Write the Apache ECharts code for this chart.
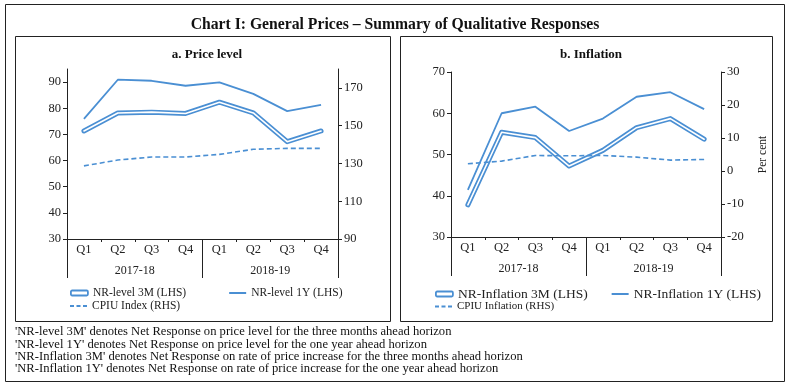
<!DOCTYPE html>
<html><head><meta charset="utf-8">
<script src="https://cdn.jsdelivr.net/npm/echarts@6/dist/echarts.min.js"></script>
<style>html,body{margin:0;padding:0;background:#fff}#c{width:790px;height:387px}</style>
</head><body><div id="c"></div>
<script>
// ---- data ----
var categories = ['Q1','Q2','Q3','Q4','Q1','Q2','Q3','Q4'];
var years = ['2017-18','2018-19'];
var levelNR3M = [71.3, 78.2, 78.5, 78.0, 82.3, 78.2, 67.2, 71.3];
var levelNR1Y = [75.9, 90.9, 90.5, 88.6, 89.9, 85.5, 78.9, 81.3];
var cpiuIndex = [128.7, 131.8, 133.4, 133.4, 134.8, 137.5, 138.0, 138.0];
var inflNR3M = [37.8, 55.4, 54.1, 47.2, 51.0, 56.5, 58.7, 53.7];
var inflNR1Y = [41.4, 60.0, 61.6, 55.7, 58.7, 64.0, 65.1, 61.0];
var cpiuInfl = [2.2, 3.0, 4.7, 4.6, 4.7, 4.2, 3.3, 3.5];
var levelLhsTicks = [30, 40, 50, 60, 70, 80, 90];
var levelRhsTicks = [90, 110, 130, 150, 170];
var inflLhsTicks = [30, 40, 50, 60, 70];
var inflRhsTicks = [-20, -10, 0, 10, 20, 30];
var footnotes = [
  "'NR-level 3M' denotes Net Response on price level for the three months ahead horizon",
  "'NR-level 1Y' denotes Net Response on price level for the one year ahead horizon",
  "'NR-Inflation 3M' denotes Net Response on rate of price increase for the three months ahead horizon",
  "'NR-Inflation 1Y' denotes Net Response on rate of price increase for the one year ahead horizon"
];

var FONT = "'Liberation Serif','DejaVu Serif',serif";
var BLUE = '#4a8fd3';
var AX = '#222';
var ICON_SOLID = 'path://M0,0H17V2H0Z';
var ICON_DASH = 'path://M0,0H4V2H0Z M6.5,0H10.5V2H6.5Z M13,0H17V2H13Z';

function yAxis(grid, pos, min, max, ticks, extra) {
  var o = {
    type: 'value', gridIndex: grid, position: pos, min: min, max: max,
    splitLine: {show: false},
    axisLine: {show: true, onZero: false, lineStyle: {color: AX, width: 1}},
    axisTick: {show: true, length: 4, customValues: ticks, lineStyle: {color: AX}},
    axisLabel: {customValues: ticks, color: AX, fontFamily: FONT, fontSize: 12.5, margin: 6}
  };
  for (var k in extra) o[k] = extra[k];
  return o;
}
function xAxes(grid) {
  return [{
    type: 'category', gridIndex: grid, data: categories, position: 'bottom',
    axisLine: {show: true, onZero: false, lineStyle: {color: AX, width: 1}},
    axisTick: {show: true, length: 3, lineStyle: {color: AX}},
    axisLabel: {color: AX, fontFamily: FONT, fontSize: 12.5, margin: 4}
  }, {
    type: 'category', gridIndex: grid, data: years, position: 'bottom',
    axisLine: {show: false, onZero: false},
    axisTick: {show: true, length: 39, lineStyle: {color: AX}},
    axisLabel: {color: AX, fontFamily: FONT, fontSize: 12, margin: 26}
  }];
}
function doubleLine(name, data, xi, yi) {
  return [{
    name: name, type: 'line', xAxisIndex: xi, yAxisIndex: yi, data: data,
    symbol: 'none', lineStyle: {color: BLUE, width: 5, cap: 'round', join: 'round'},
    itemStyle: {color: BLUE}, z: 2
  }, {
    name: name + '_inner', type: 'line', xAxisIndex: xi, yAxisIndex: yi, data: data,
    symbol: 'none', lineStyle: {color: '#fff', width: 1.6, cap: 'round', join: 'round'},
    itemStyle: {color: '#fff'}, z: 3, silent: true
  }];
}
function thinLine(name, data, xi, yi, dashed) {
  return {
    name: name, type: 'line', xAxisIndex: xi, yAxisIndex: yi, data: data,
    symbol: 'none',
    lineStyle: {color: BLUE, width: dashed ? 1.6 : 1.8, type: dashed ? [5, 3] : 'solid'},
    itemStyle: {color: BLUE}, z: 4
  };
}
function legend(left, top, names, size, gap) {
  return {
    left: left, top: top, orient: 'horizontal', itemWidth: 17, itemHeight: 5, itemGap: gap,
    padding: 0, symbolKeepAspect: true,
    textStyle: {fontFamily: FONT, fontSize: size, color: AX, padding: [0, 0, 0, 0]},
    data: names.map(function (n) {
      if (n.indexOf('3M') >= 0) {
        return {name: n, icon: 'roundRect', itemStyle: {color: '#fff', borderColor: BLUE, borderWidth: 1.8}};
      }
      if (n.indexOf('CPIU') >= 0) {
        return {name: n, icon: ICON_DASH, itemStyle: {color: BLUE, borderWidth: 0}};
      }
      return {name: n, icon: ICON_SOLID, itemStyle: {color: BLUE, borderWidth: 0}};
    })
  };
}

var option = {
  animation: false,
  backgroundColor: '#fff',
  title: [
    {text: 'Chart I: General Prices \u2013 Summary of Qualitative Responses', left: 'center', top: 12,
     textStyle: {fontFamily: FONT, fontSize: 15.7, fontWeight: 'bold', color: '#111'}},
    {text: 'a. Price level', left: 202, top: 43, textAlign: 'center',
     textStyle: {fontFamily: FONT, fontSize: 13, fontWeight: 'bold', color: '#111'}},
    {text: 'b. Inflation', left: 586, top: 43, textAlign: 'center',
     textStyle: {fontFamily: FONT, fontSize: 13, fontWeight: 'bold', color: '#111'}},
    {text: footnotes.join('\n'), left: 15, top: 326, padding: 0,
     textStyle: {fontFamily: FONT, fontSize: 12.6, fontWeight: 'normal', color: '#111', lineHeight: 12.3}}
  ],
  graphic: [
    {type: 'rect', shape: {x: 5.5, y: 4.5, width: 779, height: 377}, style: {fill: 'none', stroke: '#222', lineWidth: 1}},
    {type: 'rect', shape: {x: 15.5, y: 36.5, width: 375, height: 285}, style: {fill: 'none', stroke: '#222', lineWidth: 1}},
    {type: 'rect', shape: {x: 400.5, y: 36.5, width: 372, height: 285}, style: {fill: 'none', stroke: '#222', lineWidth: 1}}
  ],
  legend: [
    legend(70, 287, ['NR-level 3M (LHS)', 'NR-level 1Y (LHS)'], 11.5, 43),
    legend(70, 300, ['CPIU Index (RHS)'], 11.5, 10),
    legend(435, 287, ['NR-Inflation 3M (LHS)', 'NR-Inflation 1Y (LHS)'], 13.5, 24),
    legend(435, 301, ['CPIU Inflation (RHS)'], 11, 10)
  ],
  grid: [
    {left: 67, right: 452, top: 69, bottom: 148},
    {left: 451, right: 69, top: 72, bottom: 150}
  ],
  xAxis: xAxes(0).concat(xAxes(1)),
  yAxis: [
    yAxis(0, 'left', 30, 95, levelLhsTicks, {}),
    yAxis(0, 'right', 90, 180, levelRhsTicks, {}),
    yAxis(1, 'left', 30, 70, inflLhsTicks, {}),
    yAxis(1, 'right', -20, 30, inflRhsTicks, {
      name: 'Per cent', nameLocation: 'middle', nameGap: 36, nameRotate: 90,
      nameTextStyle: {fontFamily: FONT, fontSize: 11.5, color: AX}
    })
  ],
  series: [].concat(
    doubleLine('NR-level 3M (LHS)', levelNR3M, 0, 0),
    [thinLine('NR-level 1Y (LHS)', levelNR1Y, 0, 0, false),
     thinLine('CPIU Index (RHS)', cpiuIndex, 0, 1, true)],
    doubleLine('NR-Inflation 3M (LHS)', inflNR3M, 2, 2),
    [thinLine('NR-Inflation 1Y (LHS)', inflNR1Y, 2, 2, false),
     thinLine('CPIU Inflation (RHS)', cpiuInfl, 2, 3, true)]
  )
};
var chart = echarts.init(document.getElementById('c'), null, {renderer: 'canvas'});
chart.setOption(option);
</script></body></html>
